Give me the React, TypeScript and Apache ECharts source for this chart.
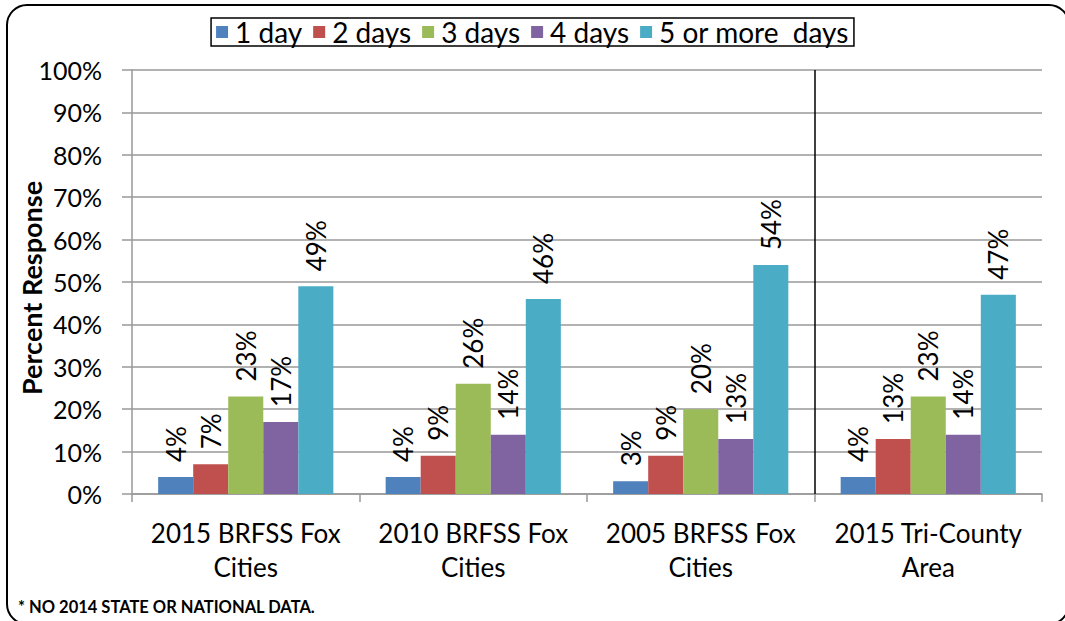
import React, { useEffect, useRef } from "react";
import * as echarts from "echarts";

const categories = [
  "2015 BRFSS Fox\nCities",
  "2010 BRFSS Fox\nCities",
  "2005 BRFSS Fox\nCities",
  "2015 Tri-County\nArea",
];
const seriesNames = ["1 day", "2 days", "3 days", "4 days", "5 or more  days"];
const oneDay = [4, 4, 3, 4];
const twoDays = [7, 9, 9, 13];
const threeDays = [23, 26, 20, 23];
const fourDays = [17, 14, 13, 14];
const fivePlus = [49, 46, 54, 47];
const colors = ["#4F81BD", "#C0504D", "#9BBB59", "#8064A2", "#4BACC6"];
const dividerAt = 3;
const footnote = "* NO 2014 STATE OR NATIONAL DATA.";

const FONT = "Lato, 'Open Sans', sans-serif";

export default function App() {
  const ref = useRef<HTMLDivElement>(null);
  useEffect(() => {
    if (!ref.current) return;
    const chart = echarts.init(ref.current, undefined, { renderer: "svg" });
    const values = [oneDay, twoDays, threeDays, fourDays, fivePlus];
    chart.setOption({
      animation: false,
      textStyle: { fontFamily: FONT },
      color: colors,
      legend: {
        data: seriesNames,
        top: 18,
        left: "center",
        icon: "rect",
        itemWidth: 12,
        itemHeight: 12,
        itemGap: 11,
        padding: [0, 5, 0, 5],
        borderColor: "#000",
        borderWidth: 1.5,
        textStyle: { fontSize: 28, color: "#000", fontFamily: FONT, padding: [0, 0, 0, 2] },
      },
      grid: { left: 132, right: 23, top: 70, bottom: 127, outerBoundsMode: "none" },
      xAxis: [
        {
          type: "category",
          data: categories,
          axisLine: { lineStyle: { color: "#999", width: 1.5 } },
          axisTick: { show: true, length: 8, lineStyle: { color: "#999", width: 1.5 } },
          axisLabel: {
            interval: 0,
            color: "#000",
            fontSize: 26,
            lineHeight: 34,
            margin: 22,
            fontFamily: FONT,
          },
        },
        {
          type: "value",
          min: 0,
          max: 4,
          show: false,
        },
      ],
      yAxis: {
        type: "value",
        min: 0,
        max: 100,
        interval: 10,
        name: "Percent Response",
        nameLocation: "middle",
        nameGap: 87,
        nameMoveOverlap: false,
        nameTextStyle: {
          fontSize: 27,
          fontWeight: "bold",
          color: "#000",
          fontFamily: FONT,
          padding: [0, 12, 0, 0],
        },
        axisLine: { show: true, lineStyle: { color: "#999", width: 1.5 } },
        axisTick: { show: true, length: 10, lineStyle: { color: "#999", width: 1.5 } },
        splitLine: { lineStyle: { color: "#999", width: 1.5 } },
        axisLabel: {
          formatter: "{value}%",
          color: "#000",
          fontSize: 25,
          margin: 30,
          fontFamily: FONT,
        },
      },
      series: [
        ...seriesNames.map((name, i) => ({
          name,
          type: "bar",
          data: values[i],
          barGap: "0%",
          barCategoryGap: "23%",
          itemStyle: { color: colors[i] },
          label: {
            show: true,
            position: "top",
            rotate: 90,
            align: "left",
            verticalAlign: "middle",
            distance: 15,
            formatter: "{c}%",
            fontSize: 26,
            color: "#000",
            fontFamily: FONT,
          },
        })),
        {
          name: "divider",
          type: "scatter",
          xAxisIndex: 1,
          data: [[dividerAt, 0]],
          symbolSize: 0,
          silent: true,
          markLine: {
            silent: true,
            symbol: "none",
            label: { show: false },
            lineStyle: { color: "#000", width: 1.5, type: "solid" },
            data: [{ xAxis: dividerAt }],
          },
        },
      ],
      graphic: [
        {
          type: "rect",
          shape: { x: 7, y: 5, width: 1062, height: 619, r: 20 },
          style: { fill: "none", stroke: "#000", lineWidth: 2 },
          silent: true,
          z: 100,
        },
        {
          type: "text",
          left: 18,
          top: 598,
          style: {
            text: footnote,
            fontSize: 16.5,
            fontWeight: "bold",
            fill: "#000",
            fontFamily: FONT,
          },
        },
      ],
    });
    return () => chart.dispose();
  }, []);
  return (
    <div
      ref={ref}
      style={{ position: "fixed", left: 0, top: 0, width: 1065, height: 621, background: "#fff" }}
    />
  );
}
